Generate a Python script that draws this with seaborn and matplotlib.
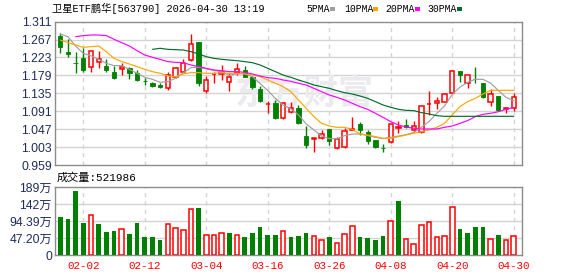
import numpy as np
import pandas as pd
import matplotlib
matplotlib.use("Agg")
import matplotlib.pyplot as plt
import seaborn as sns
from matplotlib.patches import Rectangle

# ---------------- data ----------------
dates = ['01-28', '01-29', '01-30',
         '02-02', '02-03', '02-04', '02-05', '02-06', '02-09', '02-10', '02-11', '02-12', '02-13',
         '02-24', '02-25', '02-26', '02-27',
         '03-02', '03-03', '03-04', '03-05', '03-06', '03-09', '03-10', '03-11', '03-12', '03-13',
         '03-16', '03-17', '03-18', '03-19', '03-20', '03-23', '03-24', '03-25', '03-26', '03-27',
         '03-30', '03-31',
         '04-01', '04-02', '04-03', '04-07', '04-08', '04-09', '04-10', '04-13', '04-14', '04-15',
         '04-16', '04-17', '04-20', '04-21', '04-22', '04-23', '04-24', '04-27', '04-28', '04-29', '04-30']

opens = [1.2765, 1.2364, 1.2090, 1.2225, 1.2004, 1.2127, 1.2020, 1.1873, 1.1938, 1.1963,
         1.1840, 1.1650, 1.1611, 1.1546, 1.1488, 1.1758, 1.1881, 1.2167, 1.2601, 1.1415,
         1.1825, 1.1816, 1.1636, 1.1840, 1.1922, 1.1742, 1.1456, 1.1081, 1.1120, 1.0752,
         1.0899, 1.0981, 1.0302, 1.0237, 1.0245, 1.0474, 1.0016, 1.0024, 1.0458, 1.0597,
         1.0409, 1.0204, 1.0006, 1.0147, 1.0490, 1.0572, 1.0450, 1.0409, 1.1080, 1.1104,
         1.1145, 1.1349, 1.1897, 1.1595, 1.1701, 1.1611, 1.1145, 1.1284, 1.0973, 1.0998]
highs = [1.2822, 1.2683, 1.2372, 1.2454, 1.2400, 1.2388, 1.2184, 1.2020, 1.2085, 1.2004,
         1.1922, 1.1717, 1.1636, 1.1595, 1.1873, 1.2003, 1.2184, 1.2805, 1.2601, 1.1775,
         1.1881, 1.2045, 1.1857, 1.2085, 1.2020, 1.1775, 1.1529, 1.1169, 1.1186, 1.1145,
         1.1145, 1.1063, 1.0548, 1.0245, 1.0450, 1.0474, 1.0270, 1.0491, 1.0777, 1.0654,
         1.0450, 1.0204, 1.0106, 1.0597, 1.0670, 1.0728, 1.0670, 1.1039, 1.1415, 1.1251,
         1.1366, 1.1922, 1.1897, 1.1791, 1.2004, 1.1611, 1.1448, 1.1284, 1.1006, 1.1349]
lows = [1.2347, 1.2249, 1.1857, 1.1865, 1.1881, 1.1963, 1.1881, 1.1701, 1.1799, 1.1701,
        1.1652, 1.1554, 1.1505, 1.1472, 1.1431, 1.1734, 1.1865, 1.2151, 1.1537, 1.1349,
        1.1595, 1.1677, 1.1415, 1.1799, 1.1742, 1.1447, 1.1129, 1.0859, 1.0720, 1.0711,
        1.0858, 1.0597, 0.9999, 0.9918, 1.0229, 1.0082, 0.9983, 1.0000, 1.0450, 1.0327,
        1.0098, 1.0000, 0.9902, 1.0122, 1.0384, 1.0507, 1.0409, 1.0384, 1.0818, 1.0956,
        1.1129, 1.1333, 1.1636, 1.1472, 1.1595, 1.1243, 1.1038, 1.0924, 1.0875, 1.0924]
closes = [1.2495, 1.2323, 1.2085, 1.1922, 1.2388, 1.2184, 1.1922, 1.1734, 1.1987, 1.1840,
          1.1676, 1.1644, 1.1537, 1.1513, 1.1791, 1.1963, 1.2102, 1.2560, 1.1611, 1.1677,
          1.1832, 1.1865, 1.1742, 1.1938, 1.1758, 1.1513, 1.1169, 1.1088, 1.0752, 1.1104,
          1.0998, 1.0630, 1.0082, 1.0245, 1.0343, 1.0188, 1.0221, 1.0425, 1.0466, 1.0450,
          1.0188, 1.0024, 0.9999, 1.0597, 1.0515, 1.0531, 1.0548, 1.1039, 1.1088, 1.1153,
          1.1333, 1.1897, 1.1807, 1.1791, 1.1693, 1.1268, 1.1333, 1.0940, 1.0981, 1.1251]

# volume in 万 (10k)
volumes = [105.6, 100.1, 177.9, 88.9, 110.3, 86.2, 63.9, 66.7, 71.3, 58.4,
           88.9, 50.0, 50.0, 41.7, 85.2, 75.0, 69.5, 126.9, 130.6, 54.7,
           54.7, 60.2, 61.1, 54.7, 50.0, 61.1, 77.8, 55.6, 55.6, 65.8,
           50.0, 52.8, 61.1, 51.9, 40.8, 50.0, 32.4, 57.4, 79.7, 50.0,
           47.3, 41.7, 52.8, 93.6, 150.1, 43.5, 29.6, 82.5, 90.8, 49.1,
           51.9, 132.5, 72.3, 61.1, 77.8, 77.8, 43.5, 55.6, 40.8, 52.1986]

nan = np.nan
ma5 = [1.2805, 1.2740, 1.2510, 1.2330, 1.2270, 1.2184, 1.2085, 1.2029, 1.2029, 1.1938,
       1.1840, 1.1742, 1.1693, 1.1620, 1.1636, 1.1717, 1.1850, 1.1979, 1.1990, 1.1950,
       1.1910, 1.1880, 1.1790, 1.1830, 1.1830, 1.1758, 1.1590, 1.1420, 1.1220, 1.1060,
       1.0970, 1.0820, 1.0600, 1.0450, 1.0300, 1.0240, 1.0235, 1.0310, 1.0350, 1.0351,
       1.0310, 1.0270, 1.0237, 1.0270, 1.0300, 1.0335, 1.0390, 1.0520, 1.0660, 1.0859,
       1.1039, 1.1320, 1.1500, 1.1620, 1.1693, 1.1693, 1.1600, 1.1420, 1.1251, 1.1170]
ma10 = [1.2658, 1.2593, 1.2535, 1.2478, 1.2494, 1.2511, 1.2372, 1.2208, 1.2127, 1.2069,
        1.2004, 1.1938, 1.1881, 1.1840, 1.1775, 1.1758, 1.1824, 1.1857, 1.1857, 1.1840,
        1.1840, 1.1857, 1.1840, 1.1840, 1.1824, 1.1799, 1.1758, 1.1677, 1.1595, 1.1513,
        1.1390, 1.1186, 1.0981, 1.0777, 1.0613, 1.0548, 1.0515, 1.0515, 1.0466, 1.0351,
        1.0327, 1.0286, 1.0245, 1.0245, 1.0286, 1.0327, 1.0368, 1.0409, 1.0450, 1.0515,
        1.0613, 1.0818, 1.1022, 1.1145, 1.1227, 1.1333, 1.1423, 1.1423, 1.1423, 1.1423]
ma20 = [nan, nan, 1.2740, 1.2765, 1.2781, 1.2781, 1.2765, 1.2675, 1.2593, 1.2511,
        1.2396, 1.2290, 1.2233, 1.2184, 1.2127, 1.2110, 1.2102, 1.2045, 1.2004, 1.1963,
        1.1922, 1.1906, 1.1881, 1.1881, 1.1865, 1.1824, 1.1775, 1.1734, 1.1717, 1.1677,
        1.1644, 1.1595, 1.1554, 1.1472, 1.1390, 1.1309, 1.1251, 1.1186, 1.1104, 1.1022,
        1.0957, 1.0859, 1.0760, 1.0654, 1.0572, 1.0523, 1.0491, 1.0474, 1.0474, 1.0474,
        1.0515, 1.0548, 1.0613, 1.0679, 1.0777, 1.0834, 1.0859, 1.0899, 1.0957, 1.1006]
ma30 = [nan, nan, nan, nan, nan, nan, nan, nan, nan, nan,
        nan, nan, 1.2429, 1.2454, 1.2429, 1.2421, 1.2413, 1.2372, 1.2315, 1.2249,
        1.2208, 1.2184, 1.2167, 1.2151, 1.2127, 1.2102, 1.2045, 1.1963, 1.1881, 1.1799,
        1.1742, 1.1677, 1.1619, 1.1554, 1.1513, 1.1472, 1.1415, 1.1366, 1.1333, 1.1284,
        1.1227, 1.1145, 1.1063, 1.1006, 1.0957, 1.0932, 1.0924, 1.0875, 1.0842, 1.0801,
        1.0785, 1.0785, 1.0785, 1.0785, 1.0785, 1.0785, 1.0785, 1.0785, 1.0785, 1.0785]

price_ticks = [0.959, 1.003, 1.047, 1.091, 1.135, 1.179, 1.223, 1.267, 1.311]
price_tick_labels = ['0.959', '1.003', '1.047', '1.091', '1.135', '1.179', '1.223', '1.267', '1.311']
vol_ticks = [0, 47.195, 94.39, 141.585, 188.78]
vol_tick_labels = ['0', '47.20万', '94.39万', '142万', '189万']
date_tick_labels = ['02-02', '02-12', '03-04', '03-16', '03-26', '04-08', '04-20', '04-30']

title = '卫星ETF鹏华[563790] 2026-04-30 13:19'
vol_title = '成交量:521986'
ma_names = ['5PMA', '10PMA', '20PMA', '30PMA']

# ---------------- styling ----------------
sns.set_theme(style='white')
plt.rcParams['font.family'] = ['Liberation Sans', 'Noto Sans CJK SC']

RED = '#ff0000'
GREEN = '#008000'
MA_COLORS = ['#a0a0a0', '#ffa500', '#ff00ff', '#006e2e']
GRID = '#d4d4d4'
FRAME = '#8c8c8c'
LABEL = '#1e2d5a'

W, H = 578, 276
fig = plt.figure(figsize=(W / 100, H / 100), dpi=100)
fig.patch.set_facecolor('white')

def fx(px):
    return px / W

def fy(py):
    return 1 - py / H

ax = fig.add_axes([fx(55), fy(165), fx(522) - fx(55), fy(21.6) - fy(165)])
axv = fig.add_axes([fx(55), fy(255), fx(522) - fx(55), fy(187) - fy(255)])

n = len(dates)
idx = np.arange(n)
df = pd.DataFrame({'i': idx, 'date': dates, 'open': opens, 'high': highs, 'low': lows,
                   'close': closes, 'vol': volumes,
                   'ma5': ma5, 'ma10': ma10, 'ma20': ma20, 'ma30': ma30})
df['up'] = df['close'] > df['open']
prev_close = df['close'].shift(1)
df['vol_dir'] = np.where(prev_close.isna(), np.where(df['up'], 'up', 'down'),
                         np.where(df['close'] >= prev_close, 'up', 'down'))

tick_pos = [dates.index(d) for d in date_tick_labels]
xlim = (-0.68, 60.08)

# ---------------- price panel ----------------
ax.set_xlim(*xlim)
ax.set_ylim(price_ticks[0], price_ticks[-1])
ax.set_axisbelow(True)
for y in price_ticks[1:-1]:
    ax.axhline(y, color=GRID, lw=1.0, zorder=0.5)
for xp in tick_pos:
    ax.axvline(xp, color=GRID, lw=1.0, ls=(0, (3, 3)), zorder=0.5)

# watermark
ax.text(0.535, 0.5, '东方财富', transform=ax.transAxes, ha='center', va='center',
        fontsize=25, fontweight='bold', color='#ebebef', family='Noto Sans CJK SC', zorder=0.6)

# wicks
for updir, col in [(True, RED), (False, GREEN)]:
    sub = df[df['up'] == updir]
    ax.vlines(sub['i'], sub['low'], sub['high'], color=col, lw=1.0, zorder=3)

# bodies
body_w = 0.56
up = df[df['up']]
dn = df[~df['up']]
ax.bar(up['i'], (up['close'] - up['open']).clip(lower=0.0004), bottom=up['open'], width=body_w,
       facecolor='white', edgecolor=RED, linewidth=1.1, zorder=4)
ax.bar(dn['i'], (dn['open'] - dn['close']).clip(lower=0.0006), bottom=dn['close'], width=body_w,
       facecolor=GREEN, edgecolor=GREEN, linewidth=0.6, zorder=4)

# moving averages
for name, col in zip(['ma5', 'ma10', 'ma20', 'ma30'], MA_COLORS):
    sns.lineplot(data=df, x='i', y=name, color=col, lw=0.85, ax=ax, zorder=5, legend=False)

ax.set_xlabel('')
ax.set_ylabel('')
ax.set_xticks(tick_pos)
ax.set_xticklabels([])
ax.set_yticks(price_ticks)
ax.set_yticklabels(price_tick_labels)
ax.tick_params(axis='y', length=0, pad=2.2, labelsize=8.7, labelcolor=LABEL)
ax.tick_params(axis='x', length=0)
for s in ax.spines.values():
    s.set_color(FRAME)
    s.set_linewidth(1.0)

# ---------------- volume panel ----------------
axv.set_axisbelow(True)
for y in vol_ticks[1:-1]:
    axv.axhline(y, color=GRID, lw=1.0, zorder=0.5)
for xp in tick_pos:
    axv.axvline(xp, color=GRID, lw=1.0, ls=(0, (3, 3)), zorder=0.5)

sns.barplot(data=df, x='i', y='vol', hue='vol_dir', palette={'up': RED, 'down': GREEN},
            dodge=False, native_scale=True, width=0.6, legend=False, ax=axv, zorder=3,
            linewidth=0, saturation=1)
for p in axv.patches:
    fc = p.get_facecolor()
    if fc[0] > 0.8 and fc[1] < 0.3:
        p.set_facecolor('white')
        p.set_edgecolor(RED)
        p.set_linewidth(1.1)
    else:
        p.set_edgecolor(GREEN)
        p.set_linewidth(0)

axv.set_xlim(*xlim)
axv.set_ylim(0, vol_ticks[-1])
axv.set_xlabel('')
axv.set_ylabel('')
axv.set_xticks(tick_pos)
axv.set_xticklabels(date_tick_labels, family='Liberation Mono', fontsize=7.8, color=RED)
axv.set_yticks(vol_ticks)
axv.set_yticklabels(vol_tick_labels)
axv.tick_params(axis='y', length=0, pad=2.2, labelsize=8.7, labelcolor=LABEL)
axv.tick_params(axis='x', length=0, pad=4.5)
for s in axv.spines.values():
    s.set_color(FRAME)
    s.set_linewidth(1.0)

# ---------------- header texts ----------------
mono_cjk = ['Liberation Mono', 'Noto Sans CJK SC']
fig.text(fx(52), fy(8.5), title, ha='left', va='center', fontsize=7.4, family=mono_cjk, color='black')

leg_x = [306, 344, 385, 427]
sq_x = [330, 373, 415, 457]
for name, col, tx, sx in zip(ma_names, MA_COLORS, leg_x, sq_x):
    fig.text(fx(tx), fy(8.5), name, ha='left', va='center', fontsize=7.0,
             family='Liberation Mono', color='black')
    fig.patches.append(Rectangle((fx(sx), fy(10.5)), fx(5), fy(0) - fy(3.5),
                                 transform=fig.transFigure, facecolor=col, edgecolor='none'))

fig.text(fx(57), fy(177.5), vol_title, ha='left', va='center', fontsize=8.0,
         family=mono_cjk, color='black')

fig.savefig('out.png', dpi=100, facecolor='white')
